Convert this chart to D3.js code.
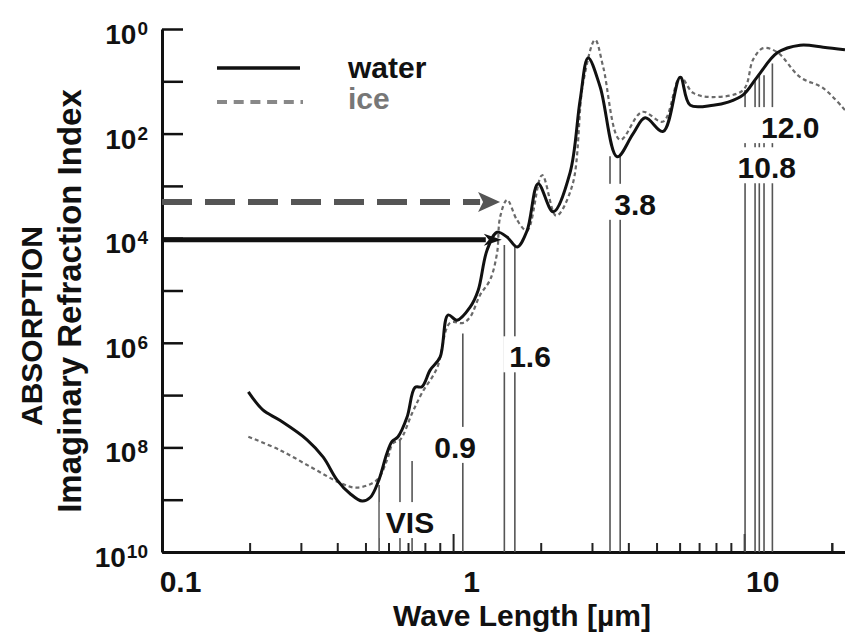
<!DOCTYPE html>
<html>
<head>
<meta charset="utf-8">
<script src="https://cdn.jsdelivr.net/npm/d3@7"></script>
<style>
  body { margin: 0; background: white; }
  text { font-family: "Liberation Sans", Arial, sans-serif; font-weight: bold; }
</style>
</head>
<body>
<div id="drawing"></div>
<script>
'use strict';

// [wavelength um, imaginary refraction index]
const water = [
  [0.198, 1.15e-7], [0.222, 5.2e-8], [0.254, 3.3e-8], [0.315, 1.4e-8], [0.358, 6.5e-9],
  [0.399, 2.4e-9], [0.443, 1.3e-9], [0.487, 9.4e-10], [0.519, 1.1e-9], [0.553, 2.2e-9],
  [0.593, 7.8e-9], [0.617, 1.3e-8], [0.647, 1.6e-8], [0.695, 3.8e-8], [0.740, 1.4e-7],
  [0.782, 1.45e-7], [0.834, 3.0e-7], [0.902, 5.3e-7], [0.961, 3.4e-6], [1.032, 2.7e-6],
  [1.144, 4.8e-6], [1.219, 1.0e-5], [1.308, 5.9e-5], [1.416, 1.3e-4], [1.533, 1.05e-4],
  [1.660, 6.8e-5], [1.796, 1.4e-4], [1.960, 1.1e-3], [2.206, 3.2e-4], [2.523, 1.8e-3],
  [2.732, 4.4e-2], [2.910, 0.28], [3.201, 7.8e-2], [3.661, 3.6e-3], [4.155, 1.0e-2],
  [4.570, 2.0e-2], [5.268, 1.1e-2], [6.03, 0.12], [6.52, 3.5e-2], [7.83, 3.5e-2],
  [8.81, 4.0e-2], [9.92, 5.5e-2], [11.08, 0.12], [12.99, 0.35], [15.57, 0.49],
  [18.68, 0.45], [22.2, 0.40]
];

const ice = [
  [0.198, 1.6e-8], [0.254, 8.9e-9], [0.330, 4.0e-9], [0.409, 2.1e-9], [0.468, 1.7e-9],
  [0.548, 2.4e-9], [0.593, 5.7e-9], [0.622, 1.2e-8], [0.658, 1.4e-8], [0.723, 4.5e-8],
  [0.782, 1.1e-7], [0.881, 3.3e-7], [0.976, 2.4e-6], [1.082, 2.4e-6], [1.144, 3.1e-6],
  [1.238, 8.2e-6], [1.340, 1.6e-5], [1.416, 5.2e-5], [1.450, 2.5e-4], [1.533, 5.4e-4],
  [1.660, 2.2e-4], [1.796, 1.4e-4], [2.022, 1.6e-3], [2.259, 2.7e-4], [2.565, 1.0e-3],
  [2.797, 9.3e-2], [3.076, 0.62], [3.277, 0.19], [3.749, 7.6e-3], [4.462, 2.6e-2],
  [5.268, 1.7e-2], [6.03, 0.12], [6.68, 6.0e-2], [7.83, 5.0e-2], [9.92, 6.8e-2],
  [10.73, 0.26], [11.62, 0.43], [12.99, 0.36], [15.57, 0.12], [18.68, 7.4e-2],
  [22.2, 2.8e-2]
];

// satellite channel markers: wavelength and where the line starts
const channels = [
  {wl: 0.557, top: 1.9e-9}, {wl: 0.657, top: 1.4e-8}, {wl: 0.723, top: 5.5e-9},
  {wl: 1.08, top: 1.5e-6},
  {wl: 1.50, top: 7.4e-5}, {wl: 1.63, top: 7.4e-5},
  {wl: 3.46, top: 3.7e-3}, {wl: 3.75, top: 3.7e-3},
  {wl: 10.07, top: 6.8e-2}, {wl: 10.9, top: 0.105}, {wl: 11.27, top: 0.13},
  {wl: 11.7, top: 0.13}, {wl: 12.5, top: 0.22}
];
const channel_labels = [
  {text: 'VIS', wl: 0.711, k: 2.3e-10},
  {text: '0.9', wl: 1.016, k: 6.3e-9},
  {text: '1.6', wl: 1.838, k: 3.4e-7},
  {text: '3.8', wl: 4.22, k: 2.8e-4},
  {text: '12.0', wl: 14.4, k: 8.2e-3},
  {text: '10.8', wl: 11.96, k: 1.4e-3}
];

const arrows = [
  {series: 'ice', k: 4.9e-4, tip: 1.45},
  {series: 'water', k: 9.3e-5, tip: 1.47}
];

const x_ticks = [0.1, 1, 10];
const x_tick_labels = ['0.1', '1', '10'];
const y_ticks = [1, 1e-2, 1e-4, 1e-6, 1e-8, 1e-10];
const y_tick_labels = ['0', '2', '4', '6', '8', '10'];
const legend_labels = ['water', 'ice'];

const W = 845, H = 635;
const x = d3.scaleLog().domain([0.1, 22.2]).range([162, 845]);
const y = d3.scaleLog().domain([1e-10, 1]).range([552, 29]);

const svg = d3.select('#drawing')
  .append('svg')
  .attr('width', W)
  .attr('height', H);

svg.append('clipPath').attr('id', 'plot')
  .append('rect')
  .attr('x', 162).attr('y', 0)
  .attr('width', W - 162).attr('height', 552);

// x axis: minor ticks, then major ticks with labels
const minor = [];
for (let d = 0.1; d < 20; d *= 10)
  for (let m = 2; m <= 9; m++)
    if (m * d <= 22.2 && m * d !== 10) minor.push(m * d);
minor.push(20);

const xminor = svg.append('g')
  .attr('transform', 'translate(0,552)')
  .call(d3.axisBottom(x).tickValues(minor).tickSize(-9).tickSizeOuter(0).tickFormat(''));
xminor.select('.domain').remove();
xminor.selectAll('.tick line').style('stroke', '#222').style('stroke-width', 2);

const xmajor = svg.append('g')
  .attr('transform', 'translate(0,552)')
  .call(d3.axisBottom(x).tickValues(x_ticks).tickSize(-18).tickSizeOuter(0).tickPadding(19)
    .tickFormat((d, i) => x_tick_labels[i]));
xmajor.select('.domain').style('stroke', '#111').style('stroke-width', 3);
xmajor.selectAll('.tick line').style('stroke', '#222').style('stroke-width', 2);
xmajor.selectAll('.tick text')
  .attr('dx', 18)
  .style('font-size', '30px')
  .style('font-family', '"Liberation Sans", Arial, sans-serif')
  .style('font-weight', 'bold')
  .style('fill', '#111');

// y axis: every decade ticked, even decades labelled
const yaxis = svg.append('g')
  .attr('transform', 'translate(162,0)')
  .call(d3.axisLeft(y).tickValues(d3.range(0, 11).map(e => Math.pow(10, -e)))
    .tickSize(-21).tickSizeOuter(0).tickFormat(''));
yaxis.select('.domain').style('stroke', '#111').style('stroke-width', 3);
yaxis.selectAll('.tick line').style('stroke', '#111').style('stroke-width', 2.5);

const ylabels = svg.append('g');
y_ticks.forEach((v, i) => {
  const t = ylabels.append('text')
    .attr('x', 148)
    .attr('y', y(v) + 15)
    .attr('text-anchor', 'end')
    .style('fill', '#111');
  t.append('tspan').style('font-size', '28px').text('10');
  t.append('tspan')
    .attr('dy', -9)
    .attr('dx', 1)
    .style('font-size', '19px')
    .text(y_tick_labels[i]);
});

// axis titles
svg.append('text')
  .attr('transform', 'translate(42,326) rotate(-90)')
  .attr('text-anchor', 'middle')
  .style('font-size', '30px')
  .style('fill', '#111')
  .text('ABSORPTION');
svg.append('text')
  .attr('transform', 'translate(81,301) rotate(-90)')
  .attr('text-anchor', 'middle')
  .style('font-size', '33px')
  .style('fill', '#111')
  .text('Imaginary Refraction Index');
svg.append('text')
  .attr('x', 522)
  .attr('y', 626)
  .attr('text-anchor', 'middle')
  .style('font-size', '30px')
  .style('fill', '#111')
  .text('Wave Length [\u00b5m]');

// channel lines and their labels
svg.append('g').selectAll()
  .data(channels)
  .enter()
  .append('line')
  .attr('x1', d => x(d.wl))
  .attr('x2', d => x(d.wl))
  .attr('y1', d => y(d.top))
  .attr('y2', y(1e-10))
  .style('stroke', '#555')
  .style('stroke-width', 1.6);

const label_pad = {'12.0': 18};
const labels = svg.append('g');
channel_labels.forEach(d => {
  const g = labels.append('g');
  const bg = g.append('rect').style('fill', 'white');
  const t = g.append('text')
    .attr('x', x(d.wl))
    .attr('y', y(d.k))
    .attr('text-anchor', 'middle')
    .style('font-size', '30px')
    .style('fill', '#111')
    .text(d.text);
  const bb = t.node().getBBox();
  const padl = label_pad[d.text] || 6;
  bg.attr('x', bb.x - padl)
    .attr('width', bb.width + padl + 6)
    .attr('y', y(d.k) - 31)
    .attr('height', 36);
});

// curves
const line = d3.line()
  .x(d => x(d[0]))
  .y(d => y(d[1]))
  .curve(d3.curveCatmullRom.alpha(0.5));

const curves = svg.append('g').attr('clip-path', 'url(#plot)');
curves.append('path')
  .datum(ice)
  .attr('d', line)
  .style('fill', 'none')
  .style('stroke', '#6a6a6a')
  .style('stroke-width', 2.2)
  .style('stroke-dasharray', '4,3')
  .style('stroke-linejoin', 'round');
curves.append('path')
  .datum(water)
  .attr('d', line)
  .style('fill', 'none')
  .style('stroke', '#111')
  .style('stroke-width', 3)
  .style('stroke-linejoin', 'round');

// arrows from the axis to the 1.4 um peaks
arrows.forEach(a => {
  const yy = y(a.k), tip = x(a.tip);
  const dashed = a.series === 'ice';
  const hl = dashed ? 22 : 18, hw = dashed ? 10 : 6;
  const col = dashed ? '#555' : '#111';
  svg.append('line')
    .attr('x1', x(0.1)).attr('x2', tip - hl + 2)
    .attr('y1', yy).attr('y2', yy)
    .style('stroke', col)
    .style('stroke-width', dashed ? 6 : 5)
    .style('stroke-dasharray', dashed ? '30,13' : null);
  svg.append('path')
    .attr('d', `M ${tip} ${yy} L ${tip - hl} ${yy - hw} L ${tip - hl + 5} ${yy} L ${tip - hl} ${yy + hw} Z`)
    .style('fill', col);
});

// legend
const legend = svg.append('g');
legend.append('line')
  .attr('x1', 217).attr('x2', 300)
  .attr('y1', 68).attr('y2', 68)
  .style('stroke', '#111').style('stroke-width', 3.5);
legend.append('line')
  .attr('x1', 217).attr('x2', 303)
  .attr('y1', 102).attr('y2', 102)
  .style('stroke', '#888').style('stroke-width', 4)
  .style('stroke-dasharray', '10,6.7');
legend.append('text')
  .attr('x', 348).attr('y', 78)
  .style('font-size', '30px').style('fill', '#111')
  .text(legend_labels[0]);
legend.append('text')
  .attr('x', 348).attr('y', 109)
  .style('font-size', '30px').style('fill', '#777')
  .text(legend_labels[1]);
</script>
</body>
</html>
